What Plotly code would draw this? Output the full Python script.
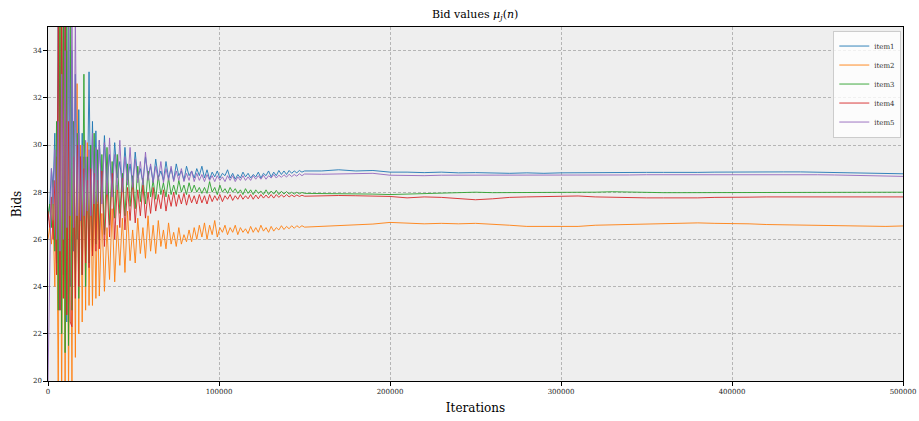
import plotly.graph_objects as go

# Iteration sample positions (denser where the bids oscillate strongly)
iterations = (list(range(0, 30001, 1000)) + list(range(31500, 150001, 1500))
              + list(range(160000, 500001, 10000)))

series_names = ["item1", "item2", "item3", "item4", "item5"]
series_colors = ["#1f77b4", "#ff7f0e", "#2ca02c", "#d62728", "#9467bd"]

item1 = [
    26.8, 27.5, 29.0, 28.2, 30.5, 25.0, 36.0, 23.0, 36.5, 24.5, 36.0, 22.5, 35.5, 24.0, 34.0, 25.5,
    33.0, 26.0, 31.5, 26.8, 30.5, 27.0, 29.5, 27.5, 33.1, 27.2, 31.0, 27.5, 30.6, 27.8, 30.2,
    28.0, 30.4, 28.3, 29.6, 28.1, 30.1, 28.6, 29.3, 28.2, 29.9,
    28.5, 29.2, 28.3, 29.7, 28.6, 29.0, 28.4, 29.5, 28.7, 29.1,
    28.4, 29.4, 28.6, 28.9, 28.5, 29.3, 28.6, 29.0, 28.5, 29.2,
    28.7, 28.9, 28.5, 29.1, 28.7, 28.9, 28.6, 29.0, 28.7, 29.1,
    28.6, 28.95, 28.55, 28.85, 28.65, 28.9, 28.6, 28.8, 28.7, 28.95,
    28.6, 28.8, 28.55, 28.75, 28.6, 28.85, 28.65, 28.8, 28.6, 28.75,
    28.65, 28.85, 28.6, 28.8, 28.7, 28.9, 28.65, 28.85, 28.7, 28.92,
    28.75, 28.9, 28.75, 28.92, 28.8, 28.9, 28.82, 28.92, 28.85, 28.9,
    28.9, 28.95, 28.9, 28.92, 28.85, 28.85, 28.83, 28.85, 28.82, 28.83, 28.8, 28.8, 28.82, 28.8,
    28.82, 28.83, 28.83, 28.84, 28.83, 28.84, 28.84, 28.83, 28.84, 28.85, 28.86, 28.86, 28.87,
    28.86, 28.86, 28.85, 28.84, 28.83, 28.82, 28.8, 28.78,
]

item2 = [
    26.0, 26.5, 25.8, 26.8, 24.0, 29.5, 19.0, 35.5, 18.5, 36.0, 19.0, 34.0, 19.5, 29.0, 20.0, 31.0,
    21.0, 32.6, 22.0, 30.0, 22.5, 29.5, 23.0, 30.1, 23.2, 28.5, 23.2, 28.0, 23.5, 27.5, 23.6,
    27.1, 23.8, 26.5, 24.3, 27.3, 24.2, 26.6, 24.9, 26.9, 24.6,
    27.2, 25.1, 26.4, 25.0, 26.9, 25.4, 26.5, 25.2, 27.0, 25.5,
    26.6, 25.4, 26.8, 25.7, 26.4, 25.6, 26.7, 25.8, 26.3, 25.7,
    26.5, 25.8, 26.2, 25.9, 26.4, 25.9, 26.5, 26.0, 26.6, 26.1,
    26.7, 26.0, 26.6, 26.2, 26.8, 26.1, 26.5, 26.3, 26.6, 26.2,
    26.5, 26.3, 26.6, 26.2, 26.5, 26.3, 26.45, 26.25, 26.55, 26.3,
    26.5, 26.3, 26.6, 26.35, 26.5, 26.3, 26.55, 26.35, 26.5, 26.4,
    26.58, 26.42, 26.55, 26.45, 26.58, 26.47, 26.58, 26.5, 26.58, 26.52,
    26.55, 26.6, 26.62, 26.65, 26.72, 26.68, 26.66, 26.68, 26.66, 26.68, 26.65, 26.6, 26.55, 26.55,
    26.53, 26.55, 26.6, 26.62, 26.62, 26.65, 26.66, 26.7, 26.7, 26.68, 26.68, 26.66, 26.63, 26.62,
    26.6, 26.58, 26.56, 26.55, 26.56, 26.55, 26.57,
]

item3 = [
    27.0, 27.5, 26.5, 28.5, 25.5, 31.0, 23.0, 36.0, 22.0, 36.0, 21.2, 35.5, 21.5, 35.0, 23.0, 31.0,
    24.0, 30.5, 23.5, 29.5, 24.5, 33.0, 24.0, 29.5, 25.0, 30.0, 25.5, 30.5, 25.8, 29.8, 26.0,
    29.6, 26.2, 29.9, 26.6, 29.3, 26.9, 29.6, 27.1, 28.8, 27.0,
    29.2, 27.4, 28.7, 27.3, 29.1, 27.6, 28.6, 27.5, 28.9, 27.8,
    28.5, 27.7, 28.7, 27.9, 28.4, 27.8, 28.6, 27.9, 28.3, 27.9,
    28.5, 28.0, 28.3, 27.9, 28.4, 28.0, 28.3, 28.0, 28.2, 27.95,
    28.2, 27.95, 28.45, 28.0, 28.2, 27.9, 28.3, 28.0, 28.15, 27.95,
    28.2, 28.0, 28.15, 27.95, 28.1, 27.9, 28.15, 27.95, 28.1, 27.9,
    28.1, 27.95, 28.05, 27.9, 28.1, 27.9, 28.05, 27.92, 28.08, 27.9,
    28.04, 27.92, 28.03, 27.92, 28.0, 27.92, 28.0, 27.93, 27.99, 27.95,
    27.95, 27.95, 27.93, 27.92, 27.9, 27.92, 27.95, 27.97, 27.98, 28.0, 27.98, 27.98, 27.97, 27.97,
    27.98, 28.0, 28.0, 28.02, 28.0, 28.0, 27.98, 27.98, 27.98, 27.97, 27.97, 27.98, 27.98, 27.98,
    27.98, 27.99, 27.99, 28.0, 28.0, 28.0, 28.0,
]

item4 = [
    27.2, 26.5, 27.8, 26.0, 28.5, 24.5, 35.5, 23.0, 36.0, 23.5, 35.0, 22.8, 31.0, 22.5, 22.3, 29.5,
    23.5, 30.0, 24.0, 29.5, 24.5, 29.0, 25.0, 28.5, 24.8, 29.0, 25.3, 28.8, 25.5, 28.5, 25.6,
    28.9, 25.7, 28.4, 26.1, 28.8, 26.0, 28.3, 26.5, 28.6, 26.4,
    28.2, 26.8, 28.4, 26.7, 28.1, 27.0, 28.3, 26.9, 28.0, 27.1,
    28.2, 27.2, 27.9, 27.3, 28.1, 27.2, 27.9, 27.4, 28.0, 27.4,
    27.9, 27.5, 27.95, 27.45, 27.9, 27.55, 27.85, 27.5, 27.9, 27.55,
    27.85, 27.5, 27.9, 27.6, 27.85, 27.65, 27.9, 27.6, 27.85, 27.7,
    27.9, 27.65, 27.85, 27.7, 27.9, 27.7, 27.85, 27.72, 27.9, 27.7,
    27.88, 27.72, 27.9, 27.75, 27.88, 27.75, 27.9, 27.75, 27.9, 27.78,
    27.89, 27.79, 27.9, 27.8, 27.88, 27.81, 27.88, 27.82, 27.87, 27.83,
    27.85, 27.86, 27.85, 27.85, 27.82, 27.76, 27.8, 27.78, 27.72, 27.68, 27.72, 27.78, 27.8, 27.82,
    27.85, 27.84, 27.8, 27.78, 27.77, 27.76, 27.76, 27.75, 27.76, 27.78, 27.8, 27.79, 27.8, 27.8,
    27.8, 27.79, 27.78, 27.79, 27.8, 27.8, 27.8,
]

item5 = [
    20.0, 24.0, 29.0, 27.5, 29.8, 26.0, 31.0, 25.5, 33.0, 26.0, 34.0, 26.5, 36.0, 27.0, 36.0, 26.5,
    35.5, 27.0, 30.5, 26.8, 30.0, 27.0, 30.2, 27.2, 29.8, 27.0, 30.5, 27.5, 29.9, 27.6, 30.2,
    27.5, 30.1, 27.9, 30.3, 27.8, 29.6, 28.1, 30.2, 28.0, 29.5,
    28.3, 29.9, 28.2, 29.4, 28.4, 29.3, 28.3, 29.7, 28.5, 29.2,
    28.4, 29.1, 28.5, 29.3, 28.4, 29.0, 28.5, 29.1, 28.45, 28.9,
    28.5, 29.0, 28.45, 28.8, 28.5, 28.9, 28.45, 28.8, 28.5, 28.75,
    28.45, 28.75, 28.5, 28.7, 28.45, 28.7, 28.5, 28.65, 28.45, 28.7,
    28.5, 28.7, 28.45, 28.65, 28.5, 28.7, 28.5, 28.65, 28.5, 28.7,
    28.55, 28.7, 28.55, 28.72, 28.55, 28.7, 28.6, 28.75, 28.6, 28.72,
    28.63, 28.74, 28.64, 28.76, 28.66, 28.75, 28.68, 28.78, 28.7, 28.77,
    28.76, 28.78, 28.78, 28.8, 28.72, 28.7, 28.7, 28.72, 28.72, 28.72, 28.7, 28.7, 28.7, 28.72,
    28.73, 28.73, 28.72, 28.73, 28.73, 28.74, 28.74, 28.74, 28.75, 28.75, 28.75, 28.76, 28.77,
    28.76, 28.75, 28.74, 28.73, 28.72, 28.7, 28.68, 28.67,
]

x_tick_values = [0, 100000, 200000, 300000, 400000, 500000]
y_tick_values = [20, 22, 24, 26, 28, 30, 32, 34]

FONT = "DejaVu Serif"

fig = go.Figure()
for name, color, vals in zip(series_names, series_colors,
                             [item1, item2, item3, item4, item5]):
    fig.add_trace(go.Scatter(x=iterations, y=vals, mode="lines", name=name,
                             line=dict(color=color, width=0.9)))

axis_common = dict(
    showline=True, linecolor="black", linewidth=1.2, mirror=True,
    ticks="outside", ticklen=3.5, tickwidth=1, tickcolor="black",
    showgrid=True, gridcolor="#b5b5b5", griddash="3px,2px", gridwidth=0.7,
    zeroline=False, automargin=False,
    tickfont=dict(family=FONT, size=7, color="#222222"),
)

fig.update_layout(
    width=919, height=421,
    margin=dict(l=48, r=16, t=27, b=40),
    paper_bgcolor="white", plot_bgcolor="#eeeeee",
    title=dict(text="Bid values <i>μ<sub>j</sub></i>(<i>n</i>)", x=0.517, xanchor="center",
               y=0.967, yanchor="middle", font=dict(family=FONT, size=11, color="black")),
    xaxis=dict(range=[0, 500000], tickvals=x_tick_values,
               ticktext=[str(v) for v in x_tick_values],
               title=dict(text="Iterations", font=dict(family=FONT, size=12, color="black"),
                          standoff=8),
               **axis_common),
    yaxis=dict(range=[20, 35], tickvals=y_tick_values,
               title=dict(text="Bids", font=dict(family=FONT, size=12, color="black"),
                          standoff=8),
               **axis_common),
    legend=dict(x=0.998, y=0.99, xanchor="right", yanchor="top",
                bgcolor="rgba(255,255,255,0.8)", bordercolor="#cccccc", borderwidth=1,
                font=dict(family=FONT, size=7, color="#333333"),
                itemwidth=30, tracegroupgap=0),
    showlegend=True,
)

fig.write_html("out.html", config={"displayModeBar": False},
               post_script="document.body.style.margin='0';")
